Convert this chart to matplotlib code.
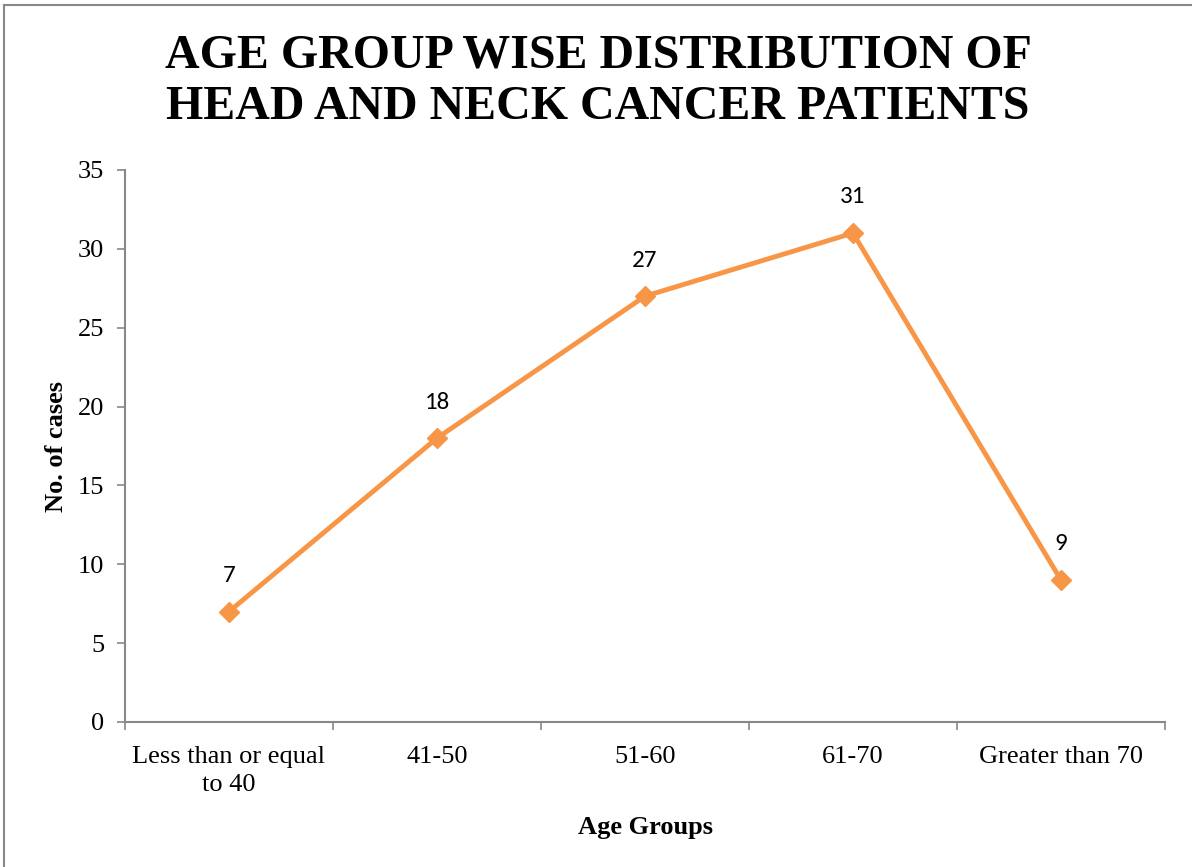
import matplotlib
matplotlib.use("Agg")
import matplotlib.pyplot as plt
from matplotlib.lines import Line2D

categories = ["Less than or equal\nto 40", "41-50", "51-60", "61-70", "Greater than 70"]
cases = [7, 18, 27, 31, 9]
yticks = [0, 5, 10, 15, 20, 25, 30, 35]

serif = ["Liberation Serif", "DejaVu Serif"]
sans = ["Carlito", "Open Sans", "Liberation Sans", "DejaVu Sans"]

fig = plt.figure(figsize=(11.92, 8.67), dpi=100)
ax = fig.add_axes([125/1192, 1-722/867, (1165-125)/1192, (722-170)/867])

x = list(range(len(categories)))
ax.plot(x, cases, color="#F79646", lw=3.5, marker="D", markersize=10.5,
        markerfacecolor="#F79646", markeredgecolor="#F79646", zorder=3)
for xi, v in zip(x, cases):
    ax.annotate(str(v), (xi, v), xytext=(0, 26), textcoords="offset points",
                ha="center", va="center", fontsize=18, family=sans, color="black")

ax.set_xlim(-0.5, len(categories) - 0.5)
ax.set_ylim(0, 35)
ax.set_yticks(yticks)
ax.set_yticklabels([str(t) for t in yticks], family=serif, fontsize=19)
ax.set_xticks(x)
ax.set_xticklabels(categories, family=serif, fontsize=19, linespacing=1.4)
ax.tick_params(axis="x", length=0, pad=17)
ax.set_xticks([i - 0.5 for i in range(len(categories) + 1)], minor=True)
ax.tick_params(axis="x", which="minor", length=6, color="#888888", width=1.2, direction="out")
ax.tick_params(axis="y", length=6, color="#888888", width=1.2, direction="out", pad=9)

for s in ["top", "right"]:
    ax.spines[s].set_visible(False)
for s in ["left", "bottom"]:
    ax.spines[s].set_color("#888888")
    ax.spines[s].set_linewidth(1.5)

ax.set_xlabel("Age Groups", family=serif, fontsize=19, fontweight="bold", labelpad=14)
ax.set_ylabel("No. of cases", family=serif, fontsize=19, fontweight="bold", labelpad=7)

fig.suptitle("AGE GROUP WISE DISTRIBUTION OF\nHEAD AND NECK CANCER PATIENTS",
             x=598/1192, y=1-34/867, va="top", family=serif, fontsize=34.5,
             fontweight="bold", linespacing=1.2)

# partial frame: top and left edges only
fig.add_artist(Line2D([3.5/1192, 1], [1-4.5/867, 1-4.5/867], transform=fig.transFigure,
                      color="#888888", lw=1.5))
fig.add_artist(Line2D([3.5/1192, 3.5/1192], [0, 1-4.5/867], transform=fig.transFigure,
                      color="#888888", lw=1.5))

fig.savefig("out.png", dpi=100)
